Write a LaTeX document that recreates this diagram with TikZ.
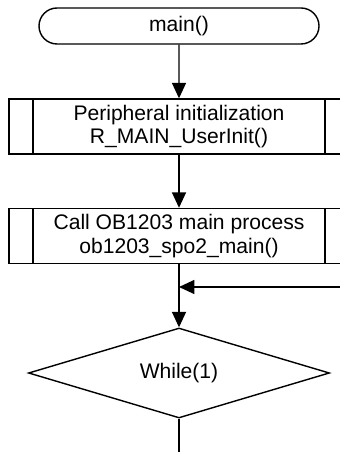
\documentclass[tikz,border=0pt]{standalone}
\usepackage{fontspec}
\setmainfont{Liberation Sans}
\usetikzlibrary{arrows.meta,shapes.geometric,shapes.misc}

\begin{document}
\begin{tikzpicture}[->,>={Triangle[width=10pt,length=11pt]},draw=black,line width=1pt,
    font=\fontsize{15}{16.8}\selectfont]
    \tikzstyle{terminal}=[rounded rectangle,draw,minimum width=7cm,minimum height=0.9cm,inner sep=0pt]
    \tikzstyle{process}=[rectangle,draw,minimum width=8.5cm,minimum height=1.375cm,inner sep=0pt,align=center,
        path picture={\draw[-] ([xshift=0.6cm]path picture bounding box.north west) -- ([xshift=0.6cm]path picture bounding box.south west);
                      \draw[-] ([xshift=-0.6cm]path picture bounding box.north east) -- ([xshift=-0.6cm]path picture bounding box.south east);}]
    \tikzstyle{decision}=[diamond,draw,aspect=3.3,minimum width=7.525cm,minimum height=2.25cm,inner sep=0pt]

    \useasboundingbox (0,0) rectangle (8.5,-11.3);

    % Flow blocks
    \node[terminal] (start) at (4.475,-0.65) {main()};
    \node[process] (init) at (4.475,-3.1625) {Peripheral initialization\\R\_MAIN\_UserInit()};
    \node[process] (proc) at (4.475,-5.9) {Call OB1203 main process\\ob1203\_spo2\_main()};
    \node[decision] (loop) at (4.475,-9.325) {While(1)};

    % Loop return and exit
    \coordinate (back) at (8.5,-7.175);
    \coordinate (join) at (4.475,-7.175);
    \coordinate (down) at (4.475,-11.3);

    \path (start) edge (init);
    \path (init) edge (proc);
    \path (proc) edge (loop);
    \path (back) edge (join);
    \draw[-] (loop) -- (down);
\end{tikzpicture}
\end{document}
